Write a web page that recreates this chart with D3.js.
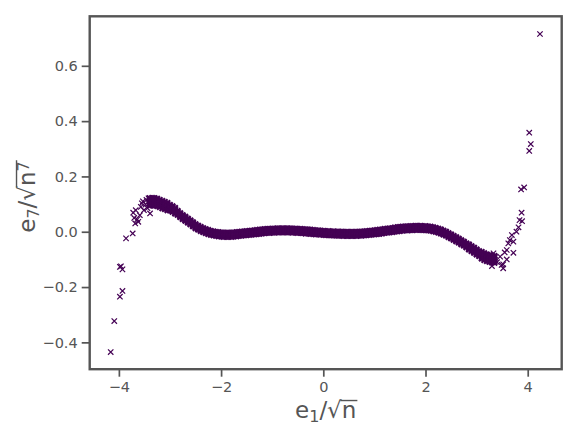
<!DOCTYPE html>
<html>
<head>
<meta charset="utf-8">
<script src="https://cdn.jsdelivr.net/npm/d3@7"></script>
<style>
  body { margin: 0; background: #fff; }
  text { font-family: "DejaVu Sans", sans-serif; }
</style>
</head>
<body>
<svg id="chart" width="581" height="427"></svg>
<script>
// dense band of samples: centre line
const bandX = [
  -3.40,-3.35,-3.30,-3.25,-3.20,-3.15,-3.10,-3.05,-3.00,-2.95,
  -2.90,-2.85,-2.80,-2.75,-2.70,-2.65,-2.60,-2.55,-2.50,-2.45,
  -2.40,-2.35,-2.30,-2.25,-2.20,-2.15,-2.10,-2.05,-2.00,-1.95,
  -1.90,-1.85,-1.80,-1.75,-1.70,-1.65,-1.60,-1.55,-1.50,-1.45,
  -1.40,-1.35,-1.30,-1.25,-1.20,-1.15,-1.10,-1.05,-1.00,-0.95,
  -0.90,-0.85,-0.80,-0.75,-0.70,-0.65,-0.60,-0.55,-0.50,-0.45,
  -0.40,-0.35,-0.30,-0.25,-0.20,-0.15,-0.10,-0.05, 0.00, 0.05,
   0.10, 0.15, 0.20, 0.25, 0.30, 0.35, 0.40, 0.45, 0.50, 0.55,
   0.60, 0.65, 0.70, 0.75, 0.80, 0.85, 0.90, 0.95, 1.00, 1.05,
   1.10, 1.15, 1.20, 1.25, 1.30, 1.35, 1.40, 1.45, 1.50, 1.55,
   1.60, 1.65, 1.70, 1.75, 1.80, 1.85, 1.90, 1.95, 2.00, 2.05,
   2.10, 2.15, 2.20, 2.25, 2.30, 2.35, 2.40, 2.45, 2.50, 2.55,
   2.60, 2.65, 2.70, 2.75, 2.80, 2.85, 2.90, 2.95, 3.00, 3.05,
   3.10, 3.15, 3.20, 3.25, 3.30, 3.35
];
const bandY = [
   0.108, 0.109, 0.108, 0.106, 0.102, 0.098, 0.095, 0.091, 0.087, 0.082,
   0.076, 0.068, 0.060, 0.053, 0.047, 0.040, 0.034, 0.027, 0.020, 0.015,
   0.010, 0.006, 0.002,-0.001,-0.004,-0.006,-0.008,-0.009,-0.010,-0.011,
  -0.011,-0.011,-0.011,-0.010,-0.009,-0.008,-0.007,-0.006,-0.005,-0.004,
  -0.003,-0.002,-0.001, 0.000, 0.001, 0.002, 0.003, 0.003, 0.004, 0.004,
   0.005, 0.005, 0.005, 0.005, 0.005, 0.005, 0.004, 0.004, 0.003, 0.003,
   0.002, 0.001, 0.001, 0.000,-0.001,-0.002,-0.002,-0.003,-0.004,-0.005,
  -0.005,-0.006,-0.006,-0.007,-0.007,-0.007,-0.008,-0.008,-0.008,-0.008,
  -0.008,-0.008,-0.007,-0.007,-0.006,-0.005,-0.004,-0.003,-0.002,-0.001,
   0.000, 0.001, 0.003, 0.004, 0.005, 0.006, 0.008, 0.009, 0.010, 0.011,
   0.012, 0.012, 0.013, 0.013, 0.014, 0.014, 0.014, 0.013, 0.013, 0.012,
   0.011, 0.009, 0.007, 0.004, 0.001,-0.003,-0.007,-0.012,-0.017,-0.022,
  -0.027,-0.032,-0.038,-0.043,-0.049,-0.055,-0.061,-0.067,-0.073,-0.079,
  -0.085,-0.090,-0.094,-0.097,-0.099,-0.100
];
// half thickness of the band, by zone: [from x, to x, spread]
const bandSpread = [
  [-3.40, -3.05, 0.013],
  [-3.00, -2.90, 0.010],
  [-2.85,  2.80, 0.007],
  [ 2.85,  3.05, 0.009],
  [ 3.10,  3.35, 0.012]
];
// rows drawn across the band thickness (fraction of the spread)
const bandRows = [-1, -0.5, 0, 0.5, 1];

// scattered samples in the two tails
const outX = [
  -4.16,-4.09,-3.98,-3.93,-3.98,-3.93,-3.96,-3.86,-3.73,-3.72,
  -3.67,-3.68,-3.62,-3.59,-3.55,-3.51,-3.46,-3.39,-3.42,-3.33,
  -3.70,-3.64,-3.57,-3.53,-3.48,-3.44,
   4.24, 4.03, 4.06, 4.03, 3.87, 3.93, 3.88, 3.84, 3.89, 3.82,
   3.69, 3.65, 3.72, 3.62, 3.72, 3.59, 3.52, 3.59, 3.33, 3.30,
   3.49, 3.46, 3.52, 3.55, 3.40, 3.78
];
const outY = [
  -0.435,-0.323,-0.235,-0.214,-0.127,-0.136,-0.125,-0.024,-0.006, 0.069,
   0.078, 0.030, 0.036, 0.060, 0.103, 0.078, 0.115, 0.066, 0.121, 0.121,
   0.050, 0.045, 0.090, 0.110, 0.098, 0.085,
   0.715, 0.358, 0.317, 0.292, 0.153, 0.160, 0.069, 0.042, 0.038, 0.016,
  -0.012,-0.030,-0.036,-0.042,-0.076,-0.066,-0.132,-0.100,-0.078,-0.124,
  -0.120,-0.090,-0.118,-0.075,-0.110, 0.000
];

const xTicks = [-4, -2, 0, 2, 4];
const yTicks = [-0.4, -0.2, 0.0, 0.2, 0.4, 0.6];
const xLimits = [-4.571, 4.665];
const yLimits = [-0.497, 0.779];

const ink = "#555555";
const markColor = "#440154";

const svg = d3.select("#chart");
const margin = {top: 16.3, right: 19.3, bottom: 57.8, left: 89.7};
const width = 581 - margin.left - margin.right;
const height = 427 - margin.top - margin.bottom;

const g = svg.append("g")
    .attr("transform", "translate(" + margin.left + "," + margin.top + ")");

const x = d3.scaleLinear().domain(xLimits).range([0, width]);
const y = d3.scaleLinear().domain(yLimits).range([height, 0]);

// build the list of samples
function spreadAt(v) {
    for (const z of bandSpread) {
        if (v >= z[0] - 1e-9 && v <= z[1] + 1e-9) return z[2];
    }
    return 0.007;
}
const bandPoints = [];
bandX.forEach(function(v, i) {
    const s = spreadAt(v);
    bandRows.forEach(function(k) { bandPoints.push([v, bandY[i] + k * s]); });
});
const outPoints = outX.map((v, i) => [v, outY[i]]);

const r = 2.7;
const cross = "M" + (-r) + "," + (-r) + "L" + r + "," + r + "M" + (-r) + "," + r + "L" + r + "," + (-r);

function drawMarks(data, sw) {
    g.append("g")
        .selectAll("path")
        .data(data)
        .enter()
        .append("path")
        .attr("transform", d => "translate(" + x(d[0]) + "," + y(d[1]) + ")")
        .attr("d", cross)
        .attr("fill", "none")
        .attr("stroke", markColor)
        .attr("stroke-width", sw);
}
drawMarks(bandPoints, 2.2);
drawMarks(outPoints, 1.2);

// axes
function styleAxis(sel) {
    sel.select(".domain").remove();
    sel.selectAll(".tick line").attr("stroke", ink).attr("stroke-width", 1.7);
    sel.selectAll(".tick text")
        .attr("fill", ink)
        .style("font-size", "14.5px")
        .style("font-family", "DejaVu Sans");
}

g.append("g")
    .attr("transform", "translate(0," + height + ")")
    .call(d3.axisBottom(x).tickValues(xTicks).tickFormat(d3.format("d"))
          .tickSize(7.5).tickPadding(5))
    .call(styleAxis);

g.append("g")
    .call(d3.axisLeft(y).tickValues(yTicks).tickFormat(d3.format(".1f"))
          .tickSize(8).tickPadding(4))
    .call(styleAxis);

// frame
g.append("rect")
    .attr("width", width)
    .attr("height", height)
    .attr("fill", "none")
    .attr("stroke", ink)
    .attr("stroke-width", 2.4);

// axis labels with a radical bar
const labelSize = 23;
const smallSize = 16;

const xl = svg.append("text")
    .attr("x", margin.left + width / 2)
    .attr("y", 418)
    .attr("text-anchor", "middle")
    .attr("font-size", labelSize)
    .attr("fill", ink);
xl.append("tspan").text("e");
xl.append("tspan").attr("font-size", smallSize).attr("dy", 4).text("1");
xl.append("tspan").attr("dy", -4).text("/\u221A");
xl.append("tspan").text("n");

const xr = xl.node().getExtentOfChar(3);
const xn = xl.node().getExtentOfChar(4);
svg.append("line")
    .attr("x1", xr.x + xr.width - 1.5)
    .attr("x2", xn.x + xn.width + 1)
    .attr("y1", 418 - labelSize * 0.76)
    .attr("y2", 418 - labelSize * 0.76)
    .attr("stroke", ink)
    .attr("stroke-width", 1.4);

const yg = svg.append("g")
    .attr("transform", "translate(35,197) rotate(-90)");
const yl = yg.append("text")
    .attr("x", 0)
    .attr("y", 0)
    .attr("text-anchor", "middle")
    .attr("font-size", labelSize)
    .attr("fill", ink);
yl.append("tspan").text("e");
yl.append("tspan").attr("font-size", smallSize).attr("dy", 4).text("7");
yl.append("tspan").attr("dy", -4).text("/\u221A");
yl.append("tspan").text("n");
yl.append("tspan").attr("font-size", smallSize).attr("dy", -6).text("7");

const yr = yl.node().getExtentOfChar(3);
const ys = yl.node().getExtentOfChar(5);
yg.append("line")
    .attr("x1", yr.x + yr.width - 1.5)
    .attr("x2", ys.x + ys.width + 1)
    .attr("y1", -labelSize * 0.76 - 1)
    .attr("y2", -labelSize * 0.76 - 1)
    .attr("stroke", ink)
    .attr("stroke-width", 1.4);
</script>
</body>
</html>
